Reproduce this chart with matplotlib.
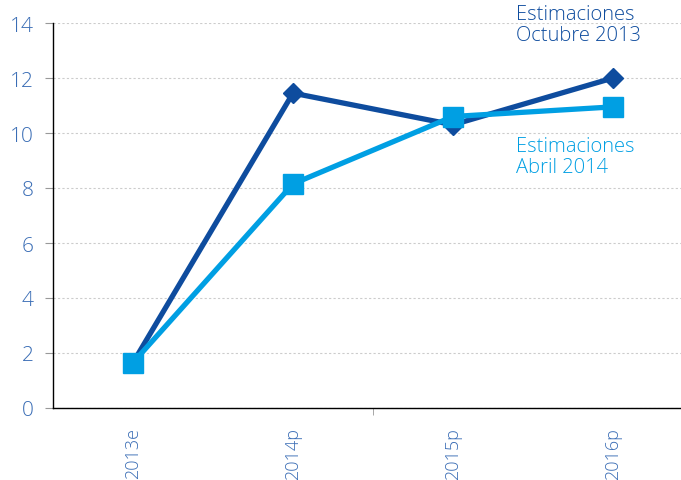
import matplotlib
matplotlib.use("Agg")
import matplotlib.pyplot as plt
from matplotlib.ticker import FixedLocator

categories = ["2013e", "2014p", "2015p", "2016p"]
oct2013 = [1.65, 11.45, 10.3, 12.0]
abr2014 = [1.65, 8.15, 10.6, 10.95]
yticks = [0, 2, 4, 6, 8, 10, 12, 14]

dark = "#0E4C9E"
light = "#009FE3"
tickc = "#3A6DB5"

plt.rcParams['font.family'] = ['Open Sans', 'DejaVu Sans']
plt.rcParams['font.weight'] = 'light'

fig = plt.figure(figsize=(6.81, 4.81), dpi=100)
ax = fig.add_axes([53/681, 72/481, 628/681, 385/481])

x = list(range(len(categories)))
ax.plot(x, oct2013, color=dark, lw=3.8, marker="D", ms=10, zorder=3)
ax.plot(x, abr2014, color=light, lw=3.8, marker="s", ms=14, zorder=4)

ax.set_xlim(-0.5, 3.425)
ax.set_ylim(0, 14)
ax.set_yticks(yticks)
ax.set_yticklabels([str(v) for v in yticks], color=tickc, fontsize=15)
ax.set_xticks(x)
ax.set_xticklabels(categories, rotation=90, color=tickc, fontsize=13, va="top")
ax.tick_params(axis="x", length=0, pad=14)
ax.xaxis.set_minor_locator(FixedLocator([1.5]))
ax.tick_params(axis="x", which="minor", length=5, color="#999999", direction="out")
ax.tick_params(axis="y", length=6, color="#999999", pad=8)

ax.grid(axis="y", color="#cccccc", linestyle=(0, (2, 2)), lw=0.8)
ax.set_axisbelow(True)
for s in ["top", "right"]:
    ax.spines[s].set_visible(False)
ax.spines["left"].set_color("black")
ax.spines["bottom"].set_color("black")
ax.spines["left"].set_linewidth(1)
ax.spines["bottom"].set_linewidth(1)

fig.text(516/681, 1 - 5/481, "Estimaciones\nOctubre 2013", color=dark, fontsize=14.5,
         ha="left", va="top", linespacing=1.08)
fig.text(516/681, 1 - 137/481, "Estimaciones\nAbril 2014", color=light, fontsize=14.5,
         ha="left", va="top", linespacing=1.08)

fig.savefig("out.png", dpi=100)
